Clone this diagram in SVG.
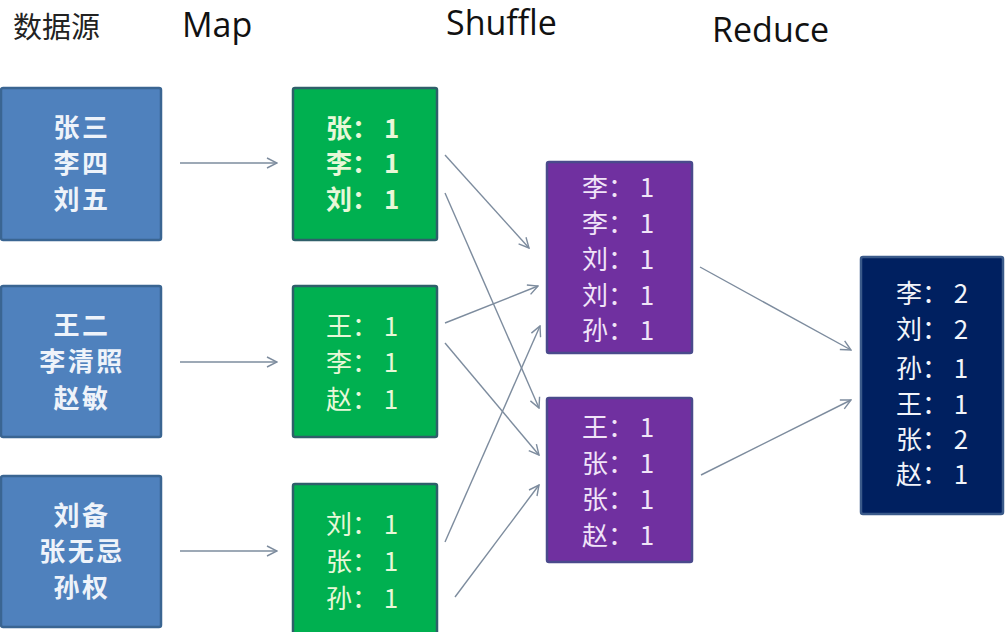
<svg xmlns="http://www.w3.org/2000/svg" width="1008" height="632" viewBox="0 0 1008 632">
<defs>
<style>
.hdr{font-family:"Open Sans","Liberation Sans",sans-serif;font-size:34px;fill:#111}
.hcn{font-family:"Noto Sans CJK SC",sans-serif;font-size:29px;fill:#222}
.src rect{fill:#4F81BD;stroke:#3A6592;stroke-width:2.5}
.map rect{fill:#00B050;stroke:#2F5F6A;stroke-width:2.5}
.shf rect{fill:#7030A0;stroke:#4A4A8C;stroke-width:2.5}
.red rect{fill:#002060;stroke:#3A5A8A;stroke-width:2.5}
.src text{font-family:"Noto Sans CJK SC",sans-serif;font-size:26px;font-weight:bold;letter-spacing:2.5px;fill:#EEF3FA;text-anchor:middle}
.map text{font-family:"Noto Sans CJK SC",sans-serif;font-size:26px;fill:#E8F8D8}
.map .b text{font-weight:bold}
.shf text{font-family:"Noto Sans CJK SC",sans-serif;font-size:26px;fill:#F0E4F8}
.red text{font-family:"Noto Sans CJK SC",sans-serif;font-size:26px;fill:#F2F4FA}
.edges line{stroke:#7D8C9E;stroke-width:1.4;fill:none;marker-end:url(#ah)}
</style>
<marker id="ah" viewBox="0 0 12 12" refX="11" refY="6" markerWidth="12" markerHeight="12" markerUnits="userSpaceOnUse" orient="auto">
<path d="M1,1 L11,6 L1,11" fill="none" stroke="#7D8C9E" stroke-width="1.4"/>
</marker>
</defs>
<rect width="1008" height="632" fill="#FFFFFF"/>

<text class="hcn" x="13" y="38">数据源</text>
<text class="hdr" x="182" y="37">Map</text>
<text class="hdr" x="446" y="35">Shuffle</text>
<text class="hdr" x="712" y="42">Reduce</text>

<g class="edges" id="connectors">
<line x1="180" y1="163" x2="277" y2="163"/>
<line x1="180" y1="362" x2="277" y2="362"/>
<line x1="180" y1="551" x2="277" y2="551"/>
<line x1="445" y1="155" x2="529" y2="248"/>
<line x1="445" y1="193" x2="539" y2="408"/>
<line x1="445" y1="323" x2="538" y2="286"/>
<line x1="445" y1="343" x2="539" y2="455"/>
<line x1="445" y1="542" x2="540" y2="326"/>
<line x1="455" y1="597" x2="539" y2="485"/>
<line x1="700" y1="267" x2="851" y2="350"/>
<line x1="701" y1="475" x2="851" y2="400"/>
</g>

<g id="src1" class="src"><rect x="1" y="88" width="160" height="152" rx="2"/>
<text x="82" y="137">张三</text><text x="82" y="173">李四</text><text x="82" y="209">刘五</text></g>
<g id="src2" class="src"><rect x="1" y="286" width="160" height="151" rx="2"/>
<text x="82" y="335">王二</text><text x="82" y="371">李清照</text><text x="82" y="408">赵敏</text></g>
<g id="src3" class="src"><rect x="1" y="476" width="160" height="151" rx="2"/>
<text x="82" y="525">刘备</text><text x="82" y="561">张无忌</text><text x="82" y="597">孙权</text></g>

<g id="map1" class="map"><rect x="293" y="88" width="144" height="152" rx="2"/>
<g class="b"><text x="326" y="138">张： 1</text><text x="326" y="173">李： 1</text><text x="326" y="209">刘： 1</text></g></g>
<g id="map2" class="map"><rect x="293" y="286" width="144" height="151" rx="2"/>
<text x="326" y="336">王： 1</text><text x="326" y="372">李： 1</text><text x="326" y="409">赵： 1</text></g>
<g id="map3" class="map"><rect x="293" y="484" width="144" height="152" rx="2"/>
<text x="326" y="534">刘： 1</text><text x="326" y="571">张： 1</text><text x="326" y="608">孙： 1</text></g>

<g id="shuffle1" class="shf"><rect x="547" y="162" width="145" height="191" rx="2"/>
<text x="582" y="197">李： 1</text><text x="582" y="233">李： 1</text><text x="582" y="269">刘： 1</text><text x="582" y="305">刘： 1</text><text x="582" y="340">孙： 1</text></g>
<g id="shuffle2" class="shf"><rect x="547" y="398" width="145" height="164" rx="2"/>
<text x="582" y="437">王： 1</text><text x="582" y="473">张： 1</text><text x="582" y="509">张： 1</text><text x="582" y="545">赵： 1</text></g>

<g id="reduce" class="red"><rect x="861" y="257" width="142" height="257" rx="2"/>
<text x="896" y="303">李： 2</text><text x="896" y="339">刘： 2</text><text x="896" y="378">孙： 1</text><text x="896" y="414">王： 1</text><text x="896" y="449">张： 2</text><text x="896" y="484">赵： 1</text></g>
</svg>
